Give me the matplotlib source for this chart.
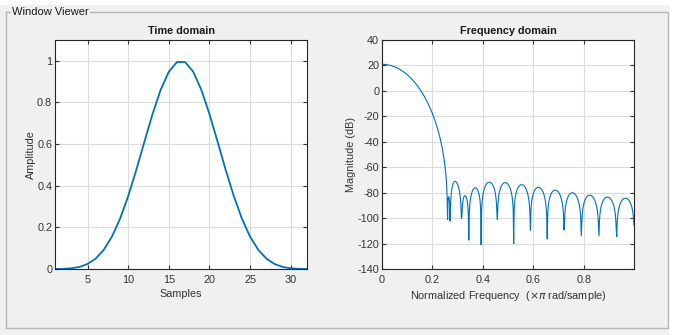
import numpy as np
import matplotlib
matplotlib.use("Agg")
import matplotlib.pyplot as plt
from matplotlib.patches import Rectangle

# Window samples (length 32, symmetric)
half = [0.00006000, 0.00069917, 0.00331281, 0.00997433, 0.02404092, 0.04986335,
        0.09217934, 0.15515234, 0.24115767, 0.34956630, 0.47587082, 0.61148961,
        0.74445942, 0.86100833, 0.94775351, 0.99406708]
window = np.array(half + half[::-1])
samples = np.arange(1, len(window) + 1)

time_xticks = [5, 10, 15, 20, 25, 30]
time_yticks = [0, 0.2, 0.4, 0.6, 0.8, 1]
time_yticklabels = ['0', '0.2', '0.4', '0.6', '0.8', '1']
freq_xticks = [0, 0.2, 0.4, 0.6, 0.8]
freq_xticklabels = ['0', '0.2', '0.4', '0.6', '0.8']
freq_yticks = [-140, -120, -100, -80, -60, -40, -20, 0, 20, 40]

plt.rcParams['font.family'] = ['Liberation Sans', 'DejaVu Sans']
plt.rcParams['axes.unicode_minus'] = False
W, H = 674, 335
fig = plt.figure(figsize=(W/100, H/100), dpi=100, facecolor='white')
fig.patches.append(Rectangle((0, 0), 669/W, (H-5)/H, transform=fig.transFigure,
                             facecolor='#f0f0f0', edgecolor='none', zorder=-10))
x0, x1, y0, y1 = 6/W, 668/W, 1-328/H, 1-12/H
fig.add_artist(plt.Line2D([x0, x0, x1, x1, x0], [y1, y0, y0, y1, y1],
                          transform=fig.transFigure, color='#b4b4b4', lw=1))
fig.text(12/W, 1-12/H, 'Window Viewer', fontsize=8, va='center', ha='left',
         color='#1a1a1a',
         bbox=dict(facecolor='#f0f0f0', edgecolor='none', pad=1.0))

def px_axes(l, t_, r, b):
    return fig.add_axes([l/W, 1-b/H, (r-l)/W, (b-t_)/H])

blue = '#0072BD'
tc = '#333333'
def style(ax):
    ax.set_facecolor('white')
    ax.grid(True, color='#dcdcdc', lw=0.8)
    ax.set_axisbelow(True)
    ax.tick_params(direction='in', length=3, top=True, right=True, labelsize=7.8,
                   colors=tc)
    ax.tick_params(axis='x', pad=4)
    ax.tick_params(axis='y', pad=2)
    for s in ax.spines.values():
        s.set_color('#262626'); s.set_linewidth(0.8)

ax1 = px_axes(55, 40, 307, 269)
ax1.plot(samples, window, color=blue, lw=1.3)
ax1.set_xlim(1, 32); ax1.set_ylim(0, 1.1)
ax1.set_xticks(time_xticks)
ax1.set_yticks(time_yticks)
ax1.set_yticklabels(time_yticklabels)
style(ax1)
ax1.set_title('Time domain', fontsize=7.8, fontweight='bold', color='#1a1a1a', pad=4)
ax1.set_xlabel('Samples', fontsize=7.8, color=tc, labelpad=3)
ax1.set_ylabel('Amplitude', fontsize=7.8, color=tc, labelpad=0.5)

nfft = 1024
Hf = np.fft.fft(window, nfft)[:nfft//2]
f = np.arange(nfft//2) / (nfft//2)
mag = 20*np.log10(np.abs(Hf))
ax2 = px_axes(382, 40, 634, 269)
ax2.plot(f, mag, color=blue, lw=0.8)
ax2.set_xlim(0, f[-1]); ax2.set_ylim(-140, 40)
ax2.set_xticks(freq_xticks)
ax2.set_xticklabels(freq_xticklabels)
ax2.set_yticks(freq_yticks)
style(ax2)
ax2.set_title('Frequency domain', fontsize=7.8, fontweight='bold', color='#1a1a1a', pad=4)
ax2.set_xlabel('Normalized Frequency  ($\\times\\pi$ rad/sample)', fontsize=7.8, color=tc, labelpad=3)
ax2.set_ylabel('Magnitude (dB)', fontsize=7.8, color=tc, labelpad=1)

fig.savefig('out.png', dpi=100, facecolor='white')
